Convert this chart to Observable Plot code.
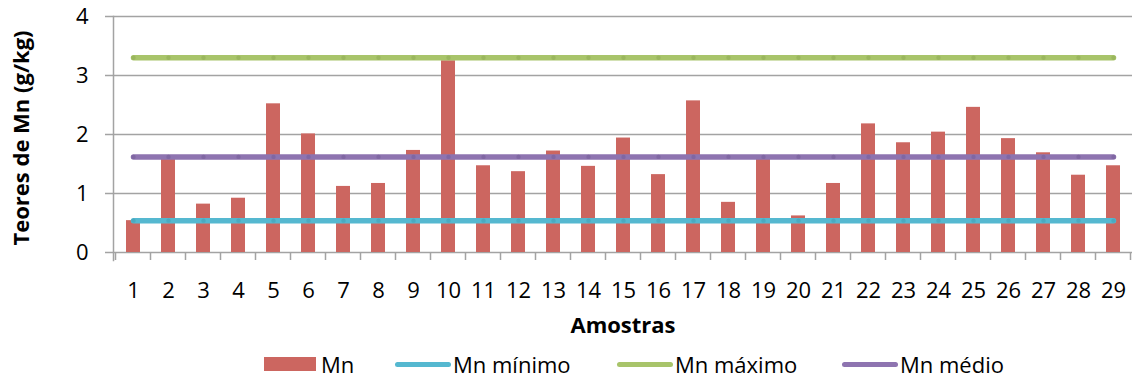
<!DOCTYPE html>
<html>
<head>
<meta charset="utf-8">
<script src="https://cdn.jsdelivr.net/npm/d3@7"></script>
<script src="https://cdn.jsdelivr.net/npm/@observablehq/plot@0.6"></script>
<style>
  body { margin: 0; background: #fff; font-family: "Open Sans", sans-serif; }
  #chart { position: relative; width: 1139px; height: 380px; overflow: hidden; }
  #chart svg { display: block; }
  #chart svg g[aria-label="x-axis tick label"],
  #chart svg g[aria-label="y-axis tick label"] { font-size: 22px; }
  .legend { position: absolute; left: 0; top: 346px; width: 1139px; height: 37px; }
  .sw, .lab { position: absolute; }
  .lab { font-size: 22px; line-height: 37px; top: 0; color: #000; white-space: nowrap; }
  .sw.rect { top: 11px; width: 52px; height: 14px; }
  .sw.line { top: 16px; width: 56px; height: 5px; border-radius: 3px; }
</style>
</head>
<body>
<div id="chart"></div>
<script>
// Amostras (samples) on the x axis
const amostras = ["1","2","3","4","5","6","7","8","9","10","11","12","13","14","15",
                  "16","17","18","19","20","21","22","23","24","25","26","27","28","29"];
// Manganese content per sample (g/kg)
const teorMn = [0.54, 1.58, 0.82, 0.92, 2.52, 2.01, 1.12, 1.17, 1.73, 3.25,
                1.47, 1.37, 1.72, 1.46, 1.94, 1.32, 2.57, 0.85, 1.60, 0.62,
                1.17, 2.18, 1.86, 2.04, 2.46, 1.93, 1.69, 1.31, 1.47];
// Reference levels
const mnMinimo = 0.54;
const mnMaximo = 3.3;
const mnMedio = 1.62;
const yTicks = [0, 1, 2, 3, 4];

const series = ["Mn mínimo", "Mn máximo", "Mn médio"];
const seriesLevels = [mnMinimo, mnMaximo, mnMedio];
const seriesColors = ["#55B8D0", "#A8C46A", "#8E74B0"];
const markerColors = ["#4AA9C0", "#9AB65E", "#8067A3"];
const barColor = "#CC6660";
const gridColor = "#A3A3A3";

const bars = amostras.map((a, i) => ({amostra: a, valor: teorMn[i]}));
const levels = series.flatMap((s, k) =>
  amostras.map(a => ({amostra: a, valor: seriesLevels[k], serie: s})));

const bandOf = (s) => typeof s.bandwidth === "function" ? s.bandwidth() : s.bandwidth;

// Category-boundary tick marks under the baseline
function edgeTicks() {
  return Plot.ruleY([0], {
    render(index, scales, values, dimensions) {
      const x = scales.x, y = scales.y;
      const bw = bandOf(x);
      const step = x(amostras[1]) - x(amostras[0]);
      const gap = (step - bw) / 2;
      const edges = amostras.map(a => x(a) - gap);
      edges.push(x(amostras[amostras.length - 1]) + bw + gap);
      const y0 = y(0);
      const g = d3.create("svg:g").attr("stroke", gridColor).attr("stroke-width", 1.5);
      g.selectAll("line").data(edges).join("line")
        .attr("x1", d => d).attr("x2", d => d)
        .attr("y1", y0).attr("y2", y0 + 8);
      return g.node();
    }
  });
}

const plot = Plot.plot({
  width: 1139,
  height: 346,
  marginTop: 16,
  marginLeft: 113,
  marginRight: 7,
  marginBottom: 94,
  style: {fontFamily: "Open Sans, sans-serif", fontSize: "22px", color: "#000", background: "#fff"},
  x: {type: "band", domain: amostras, paddingInner: 0.6, paddingOuter: 0.3, axis: null},
  y: {domain: [0, 4], axis: null},
  color: {domain: series, range: seriesColors},
  marks: [
    Plot.gridY(yTicks, {stroke: gridColor, strokeOpacity: 1, strokeWidth: 1.5, insetLeft: -8}),
    Plot.frame({anchor: "left", stroke: gridColor, strokeWidth: 1.5, insetBottom: -8}),
    edgeTicks(),
    Plot.axisY(yTicks, {tickSize: 0, tickPadding: 25, label: null, tickFormat: d => String(d)}),
    Plot.axisX({tickSize: 0, tickPadding: 30, label: null}),
    Plot.barY(bars, {x: "amostra", y: "valor", fill: barColor}),
    Plot.lineY(levels, {x: "amostra", y: "valor", z: "serie", stroke: "serie",
      strokeWidth: 5.5, strokeLinecap: "round"}),
    Plot.dot(levels, {x: "amostra", y: "valor", r: 2.2,
      fill: d => markerColors[series.indexOf(d.serie)], stroke: null}),
    Plot.text(["Teores de Mn (g/kg)"], {frameAnchor: "left", textAnchor: "middle", dx: -92, dy: 3.5,
      rotate: -90, fontWeight: "bold", fontSize: 22, fill: "#000"}),
    Plot.text(["Amostras"], {frameAnchor: "bottom", dy: 80, fontWeight: "bold", fontSize: 22, fill: "#000"})
  ]
});

const chart = document.getElementById("chart");
chart.appendChild(plot);

// Legend below the chart
const legend = document.createElement("div");
legend.className = "legend";
const legendItems = [
  {label: "Mn", color: barColor, kind: "rect", left: 264, textLeft: 321},
  {label: series[0], color: seriesColors[0], kind: "line", left: 395, textLeft: 453},
  {label: series[1], color: seriesColors[1], kind: "line", left: 617, textLeft: 675},
  {label: series[2], color: seriesColors[2], kind: "line", left: 842, textLeft: 900}
];
for (const it of legendItems) {
  const sw = document.createElement("div");
  sw.className = "sw " + it.kind;
  sw.style.left = it.left + "px";
  sw.style.background = it.color;
  legend.appendChild(sw);
  const lab = document.createElement("div");
  lab.className = "lab";
  lab.style.left = it.textLeft + "px";
  lab.textContent = it.label;
  legend.appendChild(lab);
}
chart.appendChild(legend);
</script>
</body>
</html>
